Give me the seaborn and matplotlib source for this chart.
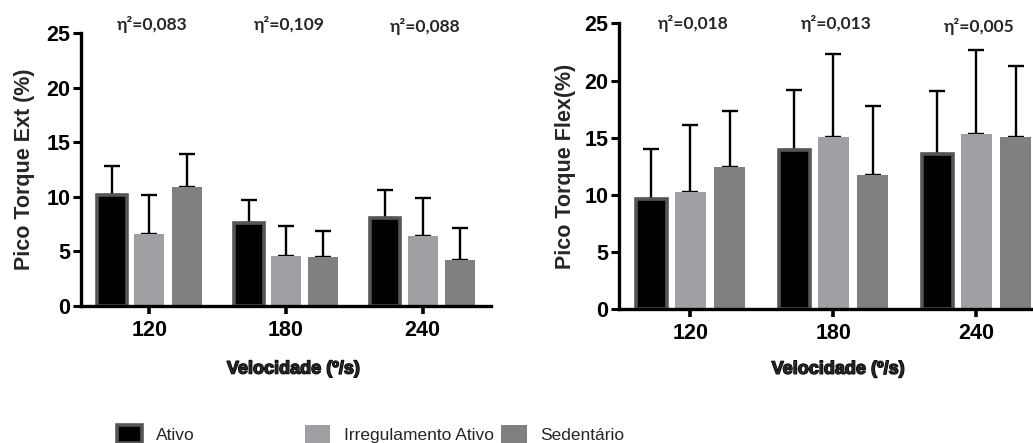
import numpy as np
import pandas as pd
import matplotlib
matplotlib.use("Agg")
import matplotlib.pyplot as plt
import matplotlib.transforms as mtransforms
import matplotlib.patheffects as pe
import seaborn as sns

# ---------------- data ----------------
velocidades = ["120", "180", "240"]
grupos = ["Ativo", "Irregulamento Ativo", "Sedentário"]

ext_ativo = [10.2, 7.6, 8.1]
ext_irreg = [6.6, 4.6, 6.4]
ext_sed = [10.9, 4.5, 4.2]
ext_ativo_sd = [2.65, 2.15, 2.55]
ext_irreg_sd = [3.6, 2.75, 3.5]
ext_sed_sd = [3.0, 2.4, 2.95]
ext_eta = ["0,083", "0,109", "0,088"]

flex_ativo = [9.6, 13.9, 13.6]
flex_irreg = [10.25, 15.05, 15.3]
flex_sed = [12.4, 11.7, 15.05]
flex_ativo_sd = [4.4, 5.3, 5.5]
flex_irreg_sd = [5.85, 7.25, 7.4]
flex_sed_sd = [4.9, 6.05, 6.2]
flex_eta = ["0,018", "0,013", "0,005"]

palette = {"Ativo": "#000000", "Irregulamento Ativo": "#A0A0A4", "Sedentário": "#808080"}

sns.set_style("ticks")
plt.rcParams["font.family"] = ["Liberation Sans", "DejaVu Sans"]


def long_df(a, b, c):
    rows = []
    for g, vals in zip(grupos, [a, b, c]):
        for v, val in zip(velocidades, vals):
            rows.append({"Velocidade": v, "Grupo": g, "Valor": val})
    return pd.DataFrame(rows)


def draw(ax, df, sds, etas, ylabel, eta_y, ylab_x, xlab_pos):
    sns.barplot(data=df, x="Velocidade", y="Valor", hue="Grupo", order=velocidades,
                hue_order=grupos, palette=palette, errorbar=None, width=0.82, gap=0.2,
                linewidth=0, saturation=1, legend=False, ax=ax, zorder=2)
    bar_conts = list(ax.containers)
    for ci, cont in enumerate(bar_conts):
        xs = [p.get_x() + p.get_width() / 2 for p in cont.patches]
        ys = [p.get_height() for p in cont.patches]
        if ci == 0:
            for p in cont.patches:
                p.set_edgecolor("#555555")
                p.set_linewidth(2.6)
        ax.errorbar(xs, ys, yerr=[np.zeros(len(ys)), sds[ci]], fmt="none", ecolor="black",
                    elinewidth=1.7, capsize=5.5, capthick=1.7, zorder=1)
    ax.set_ylim(0, 25)
    ax.set_xlim(-0.5, 2.5)
    ax.set_yticks([0, 5, 10, 15, 20, 25])
    sns.despine(ax=ax)
    for s in ["left", "bottom"]:
        ax.spines[s].set_linewidth(2.4)
        ax.spines[s].set_color("black")
    ax.tick_params(axis="y", length=6, width=2.2, pad=1.5, labelsize=15.5, colors="black")
    ax.tick_params(axis="x", length=6, width=2.6, pad=4, labelsize=15.5, colors="black")
    for lab in ax.get_xticklabels() + ax.get_yticklabels():
        lab.set_fontweight("bold")
    ax.set_ylabel(ylabel, fontsize=15.5, fontweight="bold")
    ax.yaxis.set_label_coords(ylab_x, 0.5)
    ax.set_xlabel("Velocidade (º/s)", fontsize=13, fontweight="bold",
                  path_effects=[pe.withStroke(linewidth=1.0, foreground="black")])
    ax.xaxis.set_label_coords(*xlab_pos)
    trans = mtransforms.blended_transform_factory(ax.transData, ax.transAxes)
    for i, (e, yy) in enumerate(zip(etas, eta_y)):
        ax.text(i + 0.02, yy, "η²=" + e, transform=trans, ha="center", va="center",
                fontsize=12.5, fontweight="bold", family=["Lato", "DejaVu Sans"], clip_on=False)
    return bar_conts


fig = plt.figure(figsize=(10.33, 4.43), dpi=100)
ax1 = fig.add_axes([0.0784, 0.3093, 0.397, 0.6163])
ax2 = fig.add_axes([0.5992, 0.3018, 0.4153, 0.6456])

conts1 = draw(ax1, long_df(ext_ativo, ext_irreg, ext_sed),
              [ext_ativo_sd, ext_irreg_sd, ext_sed_sd], ext_eta, "Pico Torque Ext (%)",
              [1.03, 1.03, 1.023], -0.112, (0.517, -0.2))
draw(ax2, long_df(flex_ativo, flex_irreg, flex_sed),
     [flex_ativo_sd, flex_irreg_sd, flex_sed_sd], flex_eta, "Pico Torque Flex(%)",
     [0.998, 0.998, 0.988], -0.1, (0.51, -0.18))

# legend: one entry per group, placed like the reference
handles = [c.patches[0] for c in conts1]
leg_x = [0.110, 0.292, 0.482]
for h, g, x in zip(handles, grupos, leg_x):
    fig.legend([h], [g], loc="lower left", bbox_to_anchor=(x, -0.008), frameon=False,
               handlelength=1.45, handleheight=1.2, handletextpad=0.8,
               borderpad=0.2, borderaxespad=0,
               prop={"family": ["Liberation Sans", "DejaVu Sans"], "size": 12.5})

fig.savefig("out.png", dpi=100)
